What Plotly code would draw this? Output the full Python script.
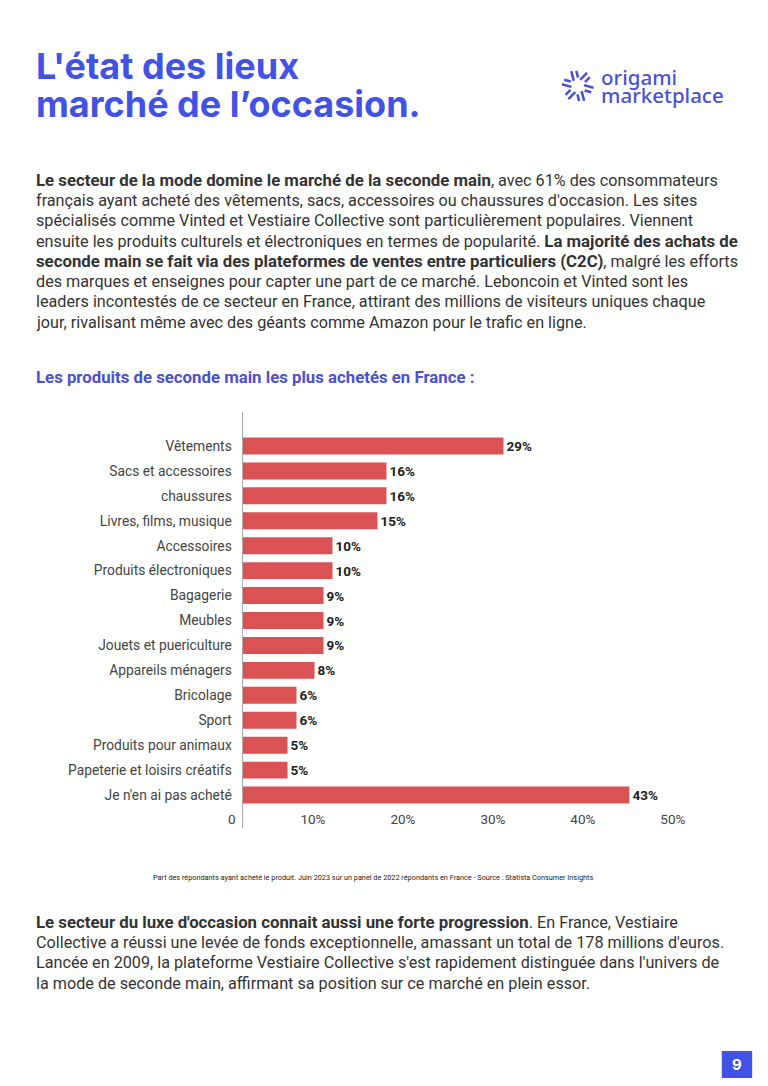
import math
import plotly.graph_objects as go

# The page is 768x1086 and the browser body keeps its default 8px margin,
# so the figure is sized to fit inside it and page coordinates are offset.
PAGE_W, PAGE_H = 768, 1086
OFF = 8
W, H = PAGE_W - 2 * OFF, PAGE_H - 2 * OFF

categories = ["Vêtements", "Sacs et accessoires", "chaussures", "Livres, films, musique",
              "Accessoires", "Produits électroniques", "Bagagerie", "Meubles",
              "Jouets et puericulture", "Appareils ménagers", "Bricolage", "Sport",
              "Produits pour animaux", "Papeterie et loisirs créatifs", "Je n'en ai pas acheté"]
values = [29, 16, 16, 15, 10, 10, 9, 9, 9, 8, 6, 6, 5, 5, 43]
tick_vals = [0, 10, 20, 30, 40, 50]
tick_text = ["0", "10%", "20%", "30%", "40%", "50%"]

title_lines = ["L'état des lieux", "marché de l’occasion."]
logo_lines = ["origami", "marketplace"]
intro_lines = [
    "<b>Le secteur de la mode domine le marché de la seconde main</b>, avec 61% des consommateurs",
    "français ayant acheté des vêtements, sacs, accessoires ou chaussures d'occasion. Les sites",
    "spécialisés comme Vinted et Vestiaire Collective sont particulièrement populaires. Viennent",
    "ensuite les produits culturels et électroniques en termes de popularité. <b>La majorité des achats de</b>",
    "<b>seconde main se fait via des plateformes de ventes entre particuliers (C2C)</b>, malgré les efforts",
    "des marques et enseignes pour capter une part de ce marché. Leboncoin et Vinted sont les",
    "leaders incontestés de ce secteur en France, attirant des millions de visiteurs uniques chaque",
    "jour, rivalisant même avec des géants comme Amazon pour le trafic en ligne.",
]
chart_title = "Les produits de seconde main les plus achetés en France :"
source_note = ("Part des répondants ayant acheté le produit. Juin 2023 sur un panel de 2022 "
               "répondants en France - Source : Statista Consumer Insights")
outro_lines = [
    "<b>Le secteur du luxe d'occasion connait aussi une forte progression</b>. En France, Vestiaire",
    "Collective a réussi une levée de fonds exceptionnelle, amassant un total de 178 millions d'euros.",
    "Lancée en 2009, la plateforme Vestiaire Collective s'est rapidement distinguée dans l'univers de",
    "la mode de seconde main, affirmant sa position sur ce marché en plein essor.",
]
page_number = "9"

BLUE = "#4152E4"
BAR = "#DA5253"
TEXT = "#333333"
BODY_FONT = "Roboto"
REG_SIZE = 16.2
BOLD_SIZE = 16.8
TEXT_X = 19  # anchor for left-aligned text blocks (page px)


def px(x):
    return (x - OFF) / W


def py(y):
    return 1 - (y - OFF) / H


def body(t):
    return t.replace("<b>", f'<b><span style="font-size:{BOLD_SIZE}px">').replace("</b>", "</span></b>")


fig = go.Figure()
fig.add_trace(go.Bar(
    x=values, y=categories, orientation="h",
    marker=dict(color=BAR, line=dict(width=0)),
    text=[f"{v}%" for v in values], textposition="outside", cliponaxis=False,
    textfont=dict(family="Roboto", size=13.5, color="#222222", weight="bold"),
    hoverinfo="skip", width=0.68,
))

fig.update_layout(
    width=W, height=H, margin=dict(l=0, r=0, t=0, b=0),
    paper_bgcolor="white", plot_bgcolor="white", showlegend=False,
    xaxis=dict(domain=[px(232), px(691)], range=[0, 50], showgrid=False, zeroline=False,
               showline=False, tickvals=tick_vals, ticktext=tick_text,
               ticklabelposition="outside left", ticks="", ticklabelshift=-7,
               tickfont=dict(family="Roboto", size=13.5, color="#444444")),
    yaxis=dict(domain=[py(809), py(412)], type="category", categoryorder="array",
               categoryarray=categories, range=[14.56, -1.363], showgrid=False,
               zeroline=False, showline=True, linecolor="#A8A8A8", linewidth=1,
               ticks="outside", ticklen=7, tickcolor="rgba(0,0,0,0)",
               tickfont=dict(family="Roboto", size=13.8, color="#444444")),
)

ann = []
for i, t in enumerate(title_lines):
    ann.append(dict(text=f"<b>{t}</b>", x=px(TEXT_X), y=py(66 + i * 38), xref="paper", yref="paper",
                    xanchor="left", yanchor="middle", showarrow=False,
                    font=dict(family="Inter", size=36, color=BLUE, weight=800)))
for i, t in enumerate(logo_lines):
    ann.append(dict(text=t, x=px(596), y=py(77 + i * 18.5), xref="paper", yref="paper",
                    xanchor="left", yanchor="middle", showarrow=False,
                    font=dict(family="Noto Sans", size=20.5, color="#4A52D4", weight=500)))
for i, t in enumerate(intro_lines):
    ann.append(dict(text=body(t), x=px(TEXT_X), y=py(180 + i * 20.3), xref="paper", yref="paper",
                    xanchor="left", yanchor="middle", showarrow=False,
                    font=dict(family=BODY_FONT, size=REG_SIZE, color=TEXT)))
ann.append(dict(text=f"<b>{chart_title}</b>", x=px(TEXT_X), y=py(377), xref="paper", yref="paper",
                xanchor="left", yanchor="middle", showarrow=False,
                font=dict(family=BODY_FONT, size=16.8, color="#4B50CC")))
ann.append(dict(text=source_note, x=px(365), y=py(877), xref="paper", yref="paper",
                xanchor="center", yanchor="middle", showarrow=False,
                font=dict(family=BODY_FONT, size=7.3, color="#222222")))
for i, t in enumerate(outro_lines):
    ann.append(dict(text=body(t), x=px(TEXT_X), y=py(922 + i * 20.4), xref="paper", yref="paper",
                    xanchor="left", yanchor="middle", showarrow=False,
                    font=dict(family=BODY_FONT, size=REG_SIZE, color=TEXT)))
ann.append(dict(text="<b>" + page_number + "</b>", x=px(736.5), y=py(1064.5), xref="paper", yref="paper",
                xanchor="center", yanchor="middle", showarrow=False,
                font=dict(family="Inter", size=15, color="white")))
fig.update_layout(annotations=ann)

shapes = [
    dict(type="rect", xref="paper", yref="paper", x0=px(721), x1=px(752), y0=py(1078), y1=py(1051),
         fillcolor=BLUE, line=dict(width=0), layer="below"),
    dict(type="line", xref="paper", yref="paper", x0=px(232), x1=px(232), y0=py(809), y1=py(828),
         line=dict(color="#A8A8A8", width=1)),
]
cx, cy = 574, 86
for k in range(6):
    a = math.radians(k * 60 + 15)
    for r0, r1, off in [(6, 16, -2.5), (8, 15, 2.5)]:
        ux, uy = math.cos(a), math.sin(a)
        nx, ny = -uy, ux
        x0 = cx + ux * r0 + nx * off
        y0 = cy + uy * r0 + ny * off
        x1 = cx + ux * r1 + nx * off
        y1 = cy + uy * r1 + ny * off
        shapes.append(dict(type="line", xref="paper", yref="paper", x0=px(x0), y0=py(y0),
                           x1=px(x1), y1=py(y1), line=dict(color="#4A52D4", width=2.5)))
fig.update_layout(shapes=shapes)

fig.write_html("out.html", config={"displayModeBar": False})
